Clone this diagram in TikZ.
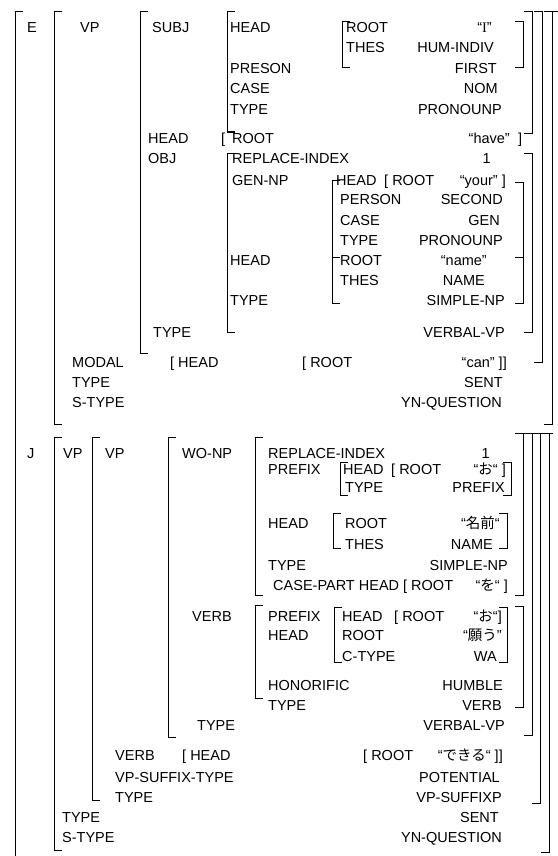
\documentclass[tikz,border=0pt]{standalone}
\usepackage{fontspec}
\setmainfont{Liberation Sans}
\newfontfamily\jp{Noto Sans CJK JP}
\newfontfamily\srf{Liberation Serif}
\newcommand\Kt[4]{\node[kk] (#1) at (#2,#3+5) {#4};}
\newcommand\Vt[4]{\node[vv] (#1) at (#2,#3+5) {#4};}
\newcommand\FSlb[3]{\draw[br] (#1+8,#2) -- (#1,#2) -- (#1,#3) -- (#1+8,#3);}
\newcommand\FSrb[3]{\draw[br] (#1-8,#2) -- (#1,#2) -- (#1,#3) -- (#1-8,#3);}
\begin{document}
\begin{tikzpicture}[x=1pt,y=-1pt,
  kk/.style={anchor=base west,inner sep=0pt,font=\fontsize{14.5}{16}\selectfont},
  vv/.style={anchor=base east,inner sep=0pt,font=\fontsize{14.5}{16}\selectfont},
  br/.style={line width=1pt,black}]
\useasboundingbox (0,0) rectangle (557,856);
\fill[white] (0,0) rectangle (557,856);
% ---------------- E part ----------------
\Kt{e}{27}{28}{E}
\Kt{evp}{80}{28}{VP}
\Kt{subj}{152}{28}{SUBJ}
\Kt{sh}{230}{28}{HEAD}
\Kt{shr}{346}{28}{ROOT} \Vt{shrv}{492}{28}{“{\srf I}”}
\Kt{sht}{346}{48}{THES} \Vt{shtv}{494}{48}{HUM-INDIV}
\Kt{sp}{230}{69}{PRESON} \Vt{spv}{497}{69}{FIRST}
\Kt{sc}{230}{89}{CASE} \Vt{scv}{498}{89}{NOM}
\Kt{st}{230}{109}{TYPE} \Vt{stv}{502}{109}{PRONOUNP}
\Kt{vh}{148}{138}{HEAD} \Kt{vhb}{221}{138}{[} \Kt{vhr}{232}{138}{ROOT}
\Vt{vhv}{510}{138}{“have”} \Kt{vhe}{518}{138}{]}
\Kt{obj}{148}{158}{OBJ} \Kt{ori}{232}{158}{REPLACE-INDEX} \Vt{oriv}{491}{158}{1}
\Kt{og}{232}{180}{GEN-NP} \Kt{ogh}{336}{180}{HEAD} \Kt{oghr}{384}{180}{[ ROOT}
\Vt{oghv}{506}{180}{“your” ]}
\Kt{ogp}{340}{199}{PERSON} \Vt{ogpv}{503}{199}{SECOND}
\Kt{ogc}{340}{220}{CASE} \Vt{ogcv}{500}{220}{GEN}
\Kt{ogt}{340}{240}{TYPE} \Vt{ogtv}{503}{240}{PRONOUNP}
\Kt{oh}{230}{260}{HEAD} \Kt{ohr}{340}{260}{ROOT} \Vt{ohrv}{487}{260}{“name”}
\Kt{oht}{340}{280}{THES} \Vt{ohtv}{485}{280}{NAME}
\Kt{ot}{230}{300}{TYPE} \Vt{otv}{505}{300}{SIMPLE-NP}
\Kt{vt}{153}{332}{TYPE} \Vt{vtv}{505}{332}{VERBAL-VP}
\Kt{mod}{72}{362}{MODAL} \Kt{modh}{170}{362}{[ HEAD} \Kt{modr}{302}{362}{[ ROOT}
\Vt{modv}{507}{362}{“can” ]]}
\Kt{et}{72}{382}{TYPE} \Vt{etv}{503}{382}{SENT}
\Kt{es}{72}{402}{S-TYPE} \Vt{esv}{502}{402}{YN-QUESTION}
% E brackets
\draw[br] (23,12) -- (15,12) -- (15,860);
\draw[br] (552,12) -- (560,12);
\FSlb{54}{12}{424} \FSrb{552}{12}{424}
\FSlb{140}{12}{353} \FSrb{542}{12}{362}
\FSlb{227}{12}{132} \FSrb{532}{12}{133}
\FSlb{342}{22}{68} \FSrb{523}{22}{68}
\FSlb{227}{153}{332} \FSrb{532}{153}{332}
\FSlb{332}{180}{257} \FSrb{523}{182}{257}
\FSlb{332}{257}{303} \FSrb{523}{257}{303}
% ---------------- J part ----------------
\Kt{j}{27}{453}{J}
\Kt{jvp}{63}{453}{VP}
\Kt{jvp2}{105}{453}{VP}
\Kt{wo}{182}{453}{WO-NP}
\Kt{wri}{268}{453}{REPLACE-INDEX} \Vt{wriv}{490}{453}{1}
\Kt{wp}{268}{469}{PREFIX} \Kt{wph}{343}{469}{HEAD} \Kt{wphr}{391}{469}{[ ROOT}
\Vt{wphv}{506}{469}{“{\jp お}“ ]}
\Kt{wpt}{345}{487}{TYPE} \Vt{wptv}{505}{487}{PREFIX}
\Kt{wh}{268}{523}{HEAD} \Kt{whr}{345}{523}{ROOT} \Vt{whrv}{500}{523}{“{\jp 名前}“}
\Kt{wht}{345}{544}{THES} \Vt{whtv}{493}{544}{NAME}
\Kt{wt}{268}{565}{TYPE} \Vt{wtv}{508}{565}{SIMPLE-NP}
\Kt{wc}{273}{585}{CASE-PART HEAD [ ROOT} \Vt{wcv}{508}{585}{“{\jp を}“ ]}
\Kt{vb}{192}{616}{VERB} \Kt{vbp}{268}{616}{PREFIX} \Kt{vbph}{342}{616}{HEAD}
\Kt{vbphr}{394}{616}{[ ROOT} \Vt{vbphv}{502}{616}{“{\jp お}“]}
\Kt{vbh}{268}{635}{HEAD} \Kt{vbhr}{342}{635}{ROOT} \Vt{vbhrv}{502}{635}{“{\jp 願う}”}
\Kt{vbhc}{342}{656}{C-TYPE} \Vt{vbhcv}{497}{656}{WA}
\Kt{vbho}{268}{685}{HONORIFIC} \Vt{vbhov}{503}{685}{HUMBLE}
\Kt{vbt}{268}{705}{TYPE} \Vt{vbtv}{502}{705}{VERB}
\Kt{ivt}{197}{725}{TYPE} \Vt{ivtv}{505}{725}{VERBAL-VP}
\Kt{ovb}{115}{755}{VERB} \Kt{ovbh}{182}{755}{[ HEAD}
\Kt{ovbr}{363}{755}{[ ROOT} \Vt{ovbv}{503}{755}{“{\jp できる}“ ]]}
\Kt{ovs}{115}{777}{VP-SUFFIX-TYPE} \Vt{ovsv}{500}{777}{POTENTIAL}
\Kt{ovt}{115}{797}{TYPE} \Vt{ovtv}{502}{797}{VP-SUFFIXP}
\Kt{jt}{62}{817}{TYPE} \Vt{jtv}{499}{817}{SENT}
\Kt{js}{62}{837}{S-TYPE} \Vt{jsv}{502}{837}{YN-QUESTION}
% J brackets
\FSlb{54}{437}{850} \FSrb{549}{433}{852}
\draw[br] (549,433) -- (553,433);
\FSlb{92}{437}{800} \FSrb{540}{433}{803}
\FSlb{168}{437}{737} \FSrb{532}{433}{735}
\FSlb{255}{437}{595} \FSrb{523}{433}{595}
\FSlb{340}{462}{495} \FSrb{511}{462}{495}
\FSlb{333}{513}{548} \FSrb{507}{513}{548}
\FSlb{255}{605}{698} \FSrb{523}{606}{707}
\FSlb{334}{607}{662} \FSrb{507}{607}{662}
\end{tikzpicture}
\end{document}
